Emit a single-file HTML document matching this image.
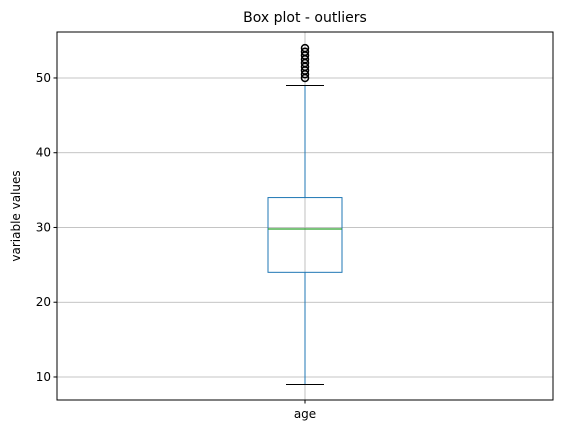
<!DOCTYPE html>
<html><head><meta charset="utf-8"><style>
body{margin:0;background:#fff;font-family:"Liberation Sans","DejaVu Sans",sans-serif}
svg text{font-family:"DejaVu Sans","Liberation Sans",sans-serif}
</style></head><body>
<svg id="chart" width="562" height="435" xmlns="http://www.w3.org/2000/svg">
<text x="305" y="22" text-anchor="middle" font-size="14">Box plot - outliers</text>
<g id="grid"></g>
<g id="plot"></g>
<rect x="57" y="32" width="496" height="368" fill="none" stroke="#000" stroke-width="1"/>
<g id="axes"></g>
<text transform="translate(20,216) rotate(-90)" text-anchor="middle" font-size="12">variable values</text>
</svg>
<script>
const categories = ["age"];
const q1 = [24];
const median = [29.8];
const q3 = [34];
const whiskerLow = [9];
const whiskerHigh = [49];
const outliers = [[50, 50.5, 51, 51.5, 52, 52.5, 53, 53.5, 54]];
const yTicks = [10, 20, 30, 40, 50];

const NS = "http://www.w3.org/2000/svg";
const L = 57, R = 553, T = 32, B = 400;
const yMin = 6.92, yMax = 56.15;
function y(v){ return B - (v - yMin) / (yMax - yMin) * (B - T); }
function x(i){ return L + (i + 0.5) * (R - L) / categories.length; }
function mk(tag, attrs, parent){ const e = document.createElementNS(NS, tag); for (const k in attrs) e.setAttribute(k, attrs[k]); parent.appendChild(e); return e; }
const grid = document.getElementById('grid'), plot = document.getElementById('plot'), axes = document.getElementById('axes');

yTicks.forEach(t => {
  const g = mk('line', {x1: L, x2: R, y1: y(t), y2: y(t), stroke: '#b0b0b0', 'stroke-width': 0.8}, grid);
  
  
  const tk = mk('line', {x1: L - 3.5, x2: L, y1: y(t), y2: y(t), stroke: '#000'}, axes);
  
  
  const tx = mk('text', {x: L - 6, y: y(t) + 4, 'text-anchor': 'end', 'font-size': 12}, axes);
  tx.textContent = t;
  
  
});

categories.forEach((c, i) => {
  const cx = x(i);
  const gl = mk('line', {x1: cx, x2: cx, y1: T, y2: B, stroke: '#b0b0b0', 'stroke-width': 0.8}, grid);
  
  
  const tk = mk('line', {x1: cx, x2: cx, y1: B, y2: B + 3.5, stroke: '#000'}, axes);
  
  
  const tx = mk('text', {x: cx, y: B + 18, 'text-anchor': 'middle', 'font-size': 12}, axes);
  tx.textContent = c;
  
  

  const bw = 74, cw = 38;
  const w1 = mk('line', {x1: cx, x2: cx, y1: y(q1[i]), y2: y(whiskerLow[i]), stroke: '#1f77b4'}, plot);
  
  
  const w2 = mk('line', {x1: cx, x2: cx, y1: y(q3[i]), y2: y(whiskerHigh[i]), stroke: '#1f77b4'}, plot);
  
  
  const c1 = mk('line', {x1: cx - cw/2, x2: cx + cw/2, y1: y(whiskerLow[i]), y2: y(whiskerLow[i]), stroke: '#000'}, plot);
  
  
  const c2 = mk('line', {x1: cx - cw/2, x2: cx + cw/2, y1: y(whiskerHigh[i]), y2: y(whiskerHigh[i]), stroke: '#000'}, plot);
  
  
  const bx = mk('rect', {x: cx - bw/2, y: y(q3[i]), width: bw, height: y(q1[i]) - y(q3[i]), fill: 'none', stroke: '#1f77b4'}, plot);
  
  
  const md = mk('line', {x1: cx - bw/2, x2: cx + bw/2, y1: y(median[i]), y2: y(median[i]), stroke: '#2ca02c', 'stroke-width': 1.2}, plot);
  
  
  outliers[i].forEach(v => {
    const o = mk('circle', {cx: cx, cy: y(v), r: 3.5, fill: 'none', stroke: '#000', 'stroke-width': 1.5}, plot);
    
    
  });
});
</script>
</body></html>
